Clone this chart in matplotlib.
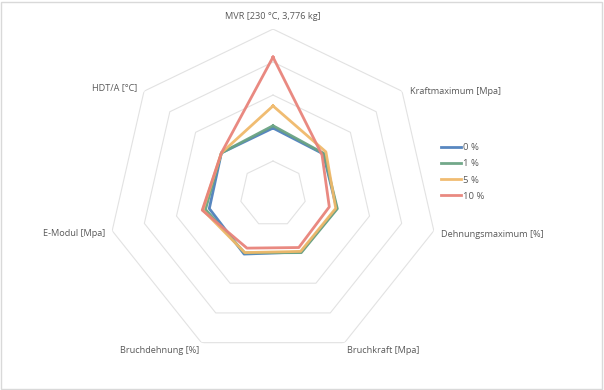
import numpy as np
import matplotlib
matplotlib.use("Agg")
import matplotlib.pyplot as plt
from matplotlib.patches import Rectangle

plt.rcParams['font.family'] = ['Open Sans', 'DejaVu Sans']

categories = ["MVR [230 °C, 3,776 kg]", "Kraftmaximum [Mpa]", "Dehnungsmaximum [%]",
              "Bruchkraft [Mpa]", "Bruchdehnung [%]", "E-Modul [Mpa]", "HDT/A [°C]"]
series_names = ["0 %", "1 %", "5 %", "10 %"]
s0 = [2.00, 1.95, 1.98, 1.95, 2.02, 1.98, 2.00]
s1 = [2.07, 1.97, 2.00, 1.97, 1.98, 2.10, 2.00]
s5 = [2.67, 2.05, 1.95, 1.93, 1.97, 2.18, 2.00]
s10 = [4.15, 1.90, 1.75, 1.80, 1.82, 2.20, 2.00]
colors = ["#4f81bd", "#6aa383", "#f0b96a", "#e8837a"]
rings = [1, 2, 3, 4, 5]

fig = plt.figure(figsize=(6.04, 3.90), dpi=100)
ax = fig.add_axes([0.1788, 0.0795, 0.5464, 0.846], projection='polar')
ax.set_theta_zero_location('N')
ax.set_theta_direction(-1)
ax.set_ylim(0, 5)
ax.grid(False)
ax.spines['polar'].set_visible(False)
ax.set_xticks([])
ax.set_yticks([])
ax.patch.set_alpha(0)

n = len(categories)
angles = np.linspace(0, 2 * np.pi, n, endpoint=False)
closed = np.append(angles, angles[0])

for r in rings:
    ax.plot(closed, [r] * (n + 1), color="#e2e2e2", lw=0.8, zorder=1)

for vals, name, c in zip([s0, s1, s5, s10], series_names, colors):
    ax.plot(closed, vals + vals[:1], color=c, lw=2, label=name, zorder=3, alpha=0.95)

# category labels around the outer ring
offsets = [(0, 8, 'center', 'bottom'), (8, 0, 'left', 'center'), (7, -4, 'left', 'center'),
           (2, -8, 'left', 'center'), (-2, -8, 'right', 'center'), (-7, -3, 'right', 'center'),
           (-7, 4, 'right', 'center')]
for a, lab, (dx, dy, ha, va) in zip(angles, categories, offsets):
    ax.annotate(lab, xy=(a, 5), xytext=(dx, dy), textcoords='offset pixels',
                ha=ha, va=va, fontsize=6.6, color="#595959")

fig.legend(loc='center left', bbox_to_anchor=(432 / 604, 1 - 172 / 390), frameon=False,
           fontsize=6.8, handlelength=2.2, labelspacing=0.75, handletextpad=0.2,
           labelcolor="#595959")

fig.patches.append(Rectangle((0.002, 0.003), 0.995, 0.993, transform=fig.transFigure,
                             fill=False, edgecolor="#d9d9d9", lw=1))

fig.savefig("out.png", dpi=100)
